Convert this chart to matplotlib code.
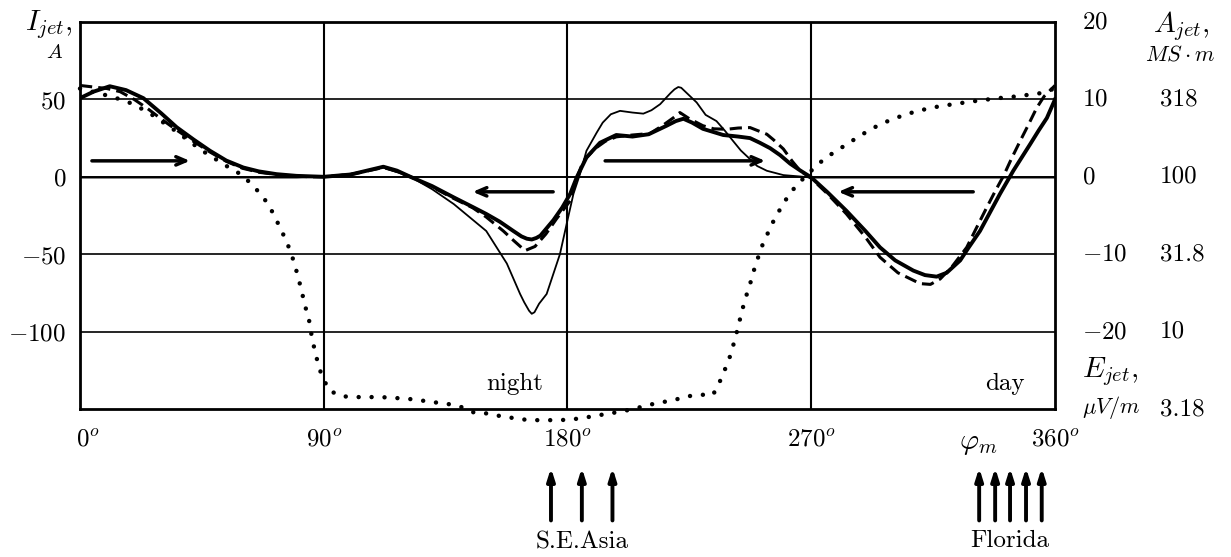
import numpy as np
import matplotlib.pyplot as plt

plt.rcParams['mathtext.fontset'] = 'cm'
plt.rcParams['font.family'] = ['DejaVu Serif']

# thick solid curve
thick_deg = [0, 5, 11, 17, 23.4, 30, 35.7, 42, 48, 54, 60.3, 66, 72.6, 80, 90, 100, 106, 112, 117,
             122, 130, 138, 145, 150, 155, 160, 163, 165, 166.8, 168.5, 170, 174.8, 178, 181, 183.4,
             187, 192, 198, 204, 210, 216.6, 220, 222.8, 226, 230, 237.5, 243, 247.4, 251, 254.8,
             258.5, 262.2, 266, 270, 276, 283, 290, 295.4, 301, 307.7, 312, 316.3, 320, 325, 328,
             332.3, 336, 339.7, 344.6, 350.8, 354, 357, 360]
thick_val = [50.8, 55, 58.5, 56, 50.8, 41, 32, 24, 16.8, 10.5, 6, 3.5, 1.7, 0.6, 0, 1.5, 4, 6.5, 4,
             0, -6, -13.3, -19.5, -24, -29, -35, -38.5, -40, -40.5, -39.5, -38, -28, -20, -11, -0.4,
             12.5, 22, 27, 26, 27.5, 33, 36, 37.5, 35, 31, 27, 26, 25, 22, 18.5,
             14, 8.5, 4, -0.4, -10, -22, -35, -45.6, -54, -60.6, -63.5, -64.5, -62, -54, -46,
             -35, -23, -11, 3.9, 21, 30, 38, 50]

# dashed curve
dash_deg = [0, 5, 10, 14.8, 20, 25, 29.5, 35, 41.8, 48, 54, 60, 66.5, 75, 85, 90, 100, 108, 112,
            117, 122, 130, 138, 145, 150, 156.3, 160, 164.3, 168, 172, 176, 181, 183, 185.8, 190,
            194, 198, 204, 210.5, 215, 219, 221.5, 225, 230, 234, 238.8, 243, 247.4, 250, 253.6,
            256, 259.7, 263, 265.9, 270, 276, 283, 290, 295.4, 302, 310.2, 314, 317.6, 322,
            327.4, 331, 334.8, 338, 341, 344, 347.1, 350, 353.3, 356, 360]
dash_val = [59, 58, 57, 55, 50, 44, 38, 31, 23, 16, 10, 5.5, 2.8, 1, 0, 0, 1.5, 4.5, 6,
            3.5, 0, -6.5, -14, -20, -26, -35, -41, -47.7, -45, -37, -27, -15.5, -3, 10, 18,
            23, 25.8, 27, 28, 33, 38, 41.5, 37.5, 33, 31, 30.7, 31.5, 31.8, 30, 27.5,
            24, 18, 10, 3.9, -1, -11, -24, -39, -52, -62, -69, -69.5, -66, -58,
            -45.6, -33, -19.8, -9, 0.6, 12, 23, 33, 44.7, 52, 59]

# thin solid curve
thin_deg = [0, 80, 90, 100, 112, 122, 130, 138, 150, 157.6, 162.5, 164, 165.8, 166.8, 167.8, 169.5,
            172.3, 177.2, 180, 182.2, 184.6, 187, 190.8, 193, 196, 199.4, 204, 208, 211, 214.2,
            218, 219.5, 220.9, 222, 223.5, 227.7, 231, 235, 238, 241.2, 244, 247.4, 250, 253.6,
            259.7, 265.9, 270, 360]
thin_val = [-0.5, -0.5, 0, 2, 6, 0, -8, -17.6, -35, -56, -75.7, -81, -86.5, -88.5, -87.5, -82,
            -75.7, -50, -28, -11, 1.7, 16.8, 28.6, 35, 40.4, 42.6, 41.5, 40.8, 43, 46.9,
            54, 56.5, 58, 57.5, 55, 48, 40, 36, 30, 23, 17, 11.4, 7, 3.9,
            1.1, 0.2, -0.5, -0.5]

# dotted curve (E_jet, log scale)
dot_deg = [0, 9, 17, 25, 35, 45, 55, 60, 63, 67, 70, 72.5, 74.6, 76.7, 78.9, 80.2, 81.6, 83, 84.6,
           85.7, 87.1, 88.6, 90.3, 92, 96.4, 101, 111, 121, 126, 131, 136, 140.6, 145.5, 150.5,
           155.8, 160.7, 165.7, 175, 180, 185, 190, 195, 200, 205, 209.8, 214.8, 219.7, 224.7,
           229.7, 233.7, 237, 240, 241.5, 243, 244.3, 245.7, 247.3, 248.6, 250, 252, 254.2,
           256.3, 259.3, 262, 265, 271.8, 275.5, 279.7, 284, 288, 292.3, 296.6, 300.7, 305,
           309, 314, 319, 324, 329, 334, 339, 344, 349, 354, 360]
dot_val = [57, 53, 49, 42, 30, 17, 6, 1, -4.3, -11.6, -19.2, -27.9, -35.5, -43.7, -54.4, -62.6,
           -72, -82.6, -92.9, -104.5, -115.3, -125, -132, -138, -141.7, -142.3, -142.3, -143.4,
           -144.5, -145.7, -146.8, -148.6, -152.3, -152.9, -154.8, -156, -157.2, -157.2, -157,
           -156, -154.5, -153, -151.6, -149.7, -147.4, -145.7, -144, -141.7, -140.8, -141,
           -129.6, -116, -107, -97, -87.5, -78.5, -70, -61.7, -54, -44, -35.5, -27.7, -18.5,
           -11, -4.7, 7, 12.5, 17.2, 22, 26.5, 31, 34.8, 37.6, 40.4, 42.3, 44.5, 46, 47.3,
           48.6, 49.7, 50.8, 51.6, 52.7, 53.8, 57]

x_ticks = [0, 90, 180, 270, 360]
x_labels = [r'$0^o$', r'$90^o$', r'$180^o$', r'$270^o$', r'$360^o$']
y_ticks = [50, 0, -50, -100]
y_labels = [r'$50$', r'$0$', r'$-50$', r'$-100$']
a_ticks = [100, 50, 0, -50, -100]
a_labels = [r'$20$', r'$10$', r'$0$', r'$-10$', r'$-20$']
e_ticks = [50, 0, -50, -100, -150]
e_labels = ['318', '100', '31.8', '10', '3.18']

asia_deg = [173.9, 185.3, 196.6]
florida_deg = [332, 337.9, 343.4, 349.3, 355.1]

cm = 'cmr10'

fig = plt.figure(figsize=(12.31, 5.57), dpi=100)
ax = fig.add_axes([80 / 1231, 1 - 409 / 557, 975 / 1231, 387 / 557])
ax.set_xlim(0, 360)
ax.set_ylim(-150, 100)

for y in [50, -50, -100]:
    ax.axhline(y, color='black', lw=1.2, zorder=1)
ax.axhline(0, color='black', lw=1.4, zorder=1)
for x in [90, 180, 270]:
    ax.axvline(x, color='black', lw=1.5, zorder=1)
for s in ax.spines.values():
    s.set_linewidth(2)

ax.plot(dot_deg, dot_val, color='black', lw=3.2, linestyle=(0, (0.01, 2.9)),
        dash_capstyle='round', clip_on=False, zorder=2)
ax.plot(thin_deg, thin_val, color='black', lw=1.3, zorder=3)
ax.plot(dash_deg, dash_val, color='black', lw=2.2, linestyle=(0, (4, 2)), zorder=3)
ax.plot(thick_deg, thick_val, color='black', lw=2.8, zorder=4)

ax.set_xticks([])
ax.set_yticks(y_ticks)
ax.set_yticklabels(y_labels, fontsize=18)
ax.tick_params(axis='y', length=0, pad=10)

for x, lab in zip(x_ticks, x_labels):
    ax.text(x + (3 if x == 0 else 0), -170, lab, ha='center', va='center', fontsize=18)
ax.text(331.6, -172, r'$\varphi_m$', ha='center', va='center', fontsize=21)

tr = ax.get_yaxis_transform()
for y, lab in zip(a_ticks, a_labels):
    ax.text(1.0277, y, lab, transform=tr, ha='left', va='center', fontsize=18)
for y, lab in zip(e_ticks, e_labels):
    ax.text(1.1077, y, lab, transform=tr, ha='left', va='center', fontsize=18, family=cm)

ax.text(-0.056, 98.5, r'$I_{jet},$', transform=tr, ha='left', va='center', fontsize=21)
ax.text(-0.026, 80, r'$A$', transform=tr, ha='center', va='center', fontsize=15)
ax.text(1.13, 97.5, r'$A_{jet},$', transform=tr, ha='center', va='center', fontsize=21)
ax.text(1.128, 79, r'$MS\cdot m$', transform=tr, ha='center', va='center', fontsize=16)
ax.text(1.0277, -126, r'$E_{jet},$', transform=tr, ha='left', va='center', fontsize=21)
ax.text(1.0277, -149, r'$\mu V/m$', transform=tr, ha='left', va='center', fontsize=16)

ax.text(160.6, -134, 'night', ha='center', va='center', fontsize=18, family=cm)
ax.text(341.5, -134, 'day', ha='center', va='center', fontsize=18, family=cm)

arrow_kw = dict(arrowstyle='->,head_length=0.7,head_width=0.3', lw=2.5, color='black',
                shrinkA=0, shrinkB=0)
for x0, x1, y in [(4.4, 40.6, 10.3), (174.7, 145, -9.7), (193.9, 253, 10.3), (329.8, 280, -9.7)]:
    ax.annotate('', xy=(x1, y), xytext=(x0, y), arrowprops=arrow_kw)

up_kw = dict(arrowstyle='-|>,head_length=0.7,head_width=0.22', lw=2.8, color='black',
             shrinkA=0, shrinkB=0)
for x in asia_deg + florida_deg:
    ax.annotate('', xy=(x, -188), xytext=(x, -222), arrowprops=up_kw, annotation_clip=False)
ax.text(np.mean(asia_deg), -236, 'S.E.Asia', ha='center', va='center', fontsize=18, family=cm)
ax.text(343.4, -235, 'Florida', ha='center', va='center', fontsize=18, family=cm)

fig.savefig('out.png', dpi=100)
